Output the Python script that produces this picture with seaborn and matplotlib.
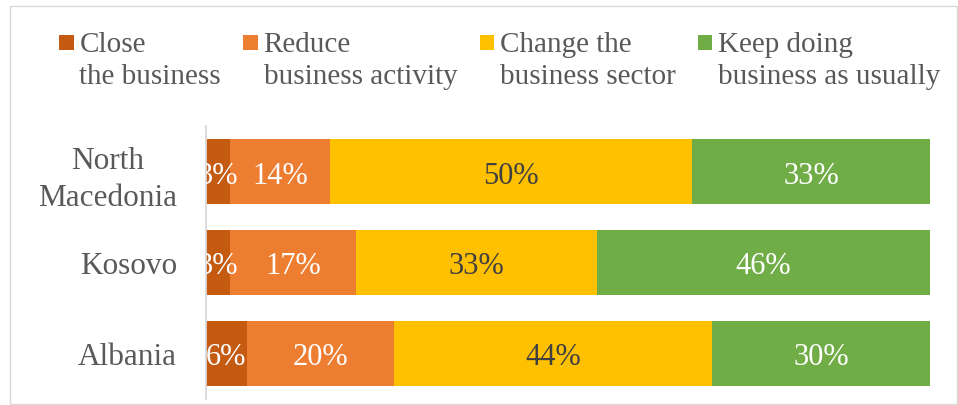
import matplotlib
matplotlib.use("Agg")
import matplotlib.pyplot as plt
from matplotlib.patches import Rectangle, Patch
from matplotlib.legend_handler import HandlerPatch
import seaborn as sns
import pandas as pd

# Survey shares (%) by country
countries = ["North Macedonia", "Kosovo", "Albania"]
tick_labels = ["North\nMacedonia", "Kosovo", "Albania"]
series = ["Close\nthe business", "Reduce\nbusiness activity",
          "Change the\nbusiness sector", "Keep doing\nbusiness as usually"]
close_business = [3.3, 3.3, 5.6]
reduce_activity = [13.8, 17.4, 20.4]
change_sector = [50.0, 33.3, 43.9]
keep_usual = [32.9, 46.0, 30.1]

colors = ["#C55A11", "#ED7D31", "#FFC000", "#70AD47"]
label_colors = ["white", "white", "#404040", "white"]
text_gray = "#595959"

sns.set_theme(style="white")
plt.rcParams["font.family"] = ["Liberation Serif", "DejaVu Serif"]

W, H = 958, 406
fig = plt.figure(figsize=(W / 100, H / 100), dpi=100)
ax = fig.add_axes([206 / W, 1 - 400 / H, (930 - 206) / W, (400 - 127) / H])

values = [close_business, reduce_activity, change_sector, keep_usual]
df = pd.DataFrame(dict(zip(series, values)), index=countries)
cum = df.cumsum(axis=1)

# Stacked bars: draw running totals from the outermost layer inwards
for name, color in reversed(list(zip(series, colors))):
    sns.barplot(x=cum[name].values, y=countries, orient="y", color=color,
                saturation=1, width=0.714, linewidth=0, ax=ax)

# Value labels at segment centres
for i, c in enumerate(countries):
    start = 0.0
    for name, lc in zip(series, label_colors):
        v = df.loc[c, name]
        ax.text(start + v / 2, i, f"{v:.0f}%", ha="center", va="center_baseline",
                color=lc, fontsize=22, clip_on=True)
        start += v

ax.set_xlim(0, 100)
ax.set_ylim(2.5, -0.5)
ax.set_xticks([])
ax.set_xlabel("")
ax.set_ylabel("")
ax.set_yticks(range(len(countries)))
ax.set_yticklabels(tick_labels, fontsize=22.5, color=text_gray,
                   multialignment="center", linespacing=1.37)
ax.tick_params(axis="y", length=0, pad=21)
for side in ["top", "right", "bottom"]:
    ax.spines[side].set_visible(False)
ax.spines["left"].set_color("#D9D9D9")
ax.spines["left"].set_linewidth(1.3)


def square_handle(legend, orig_handle, xdescent, ydescent, width, height, fontsize):
    # square swatch sitting at the bottom of a slightly taller handle box
    return Rectangle((-xdescent, -ydescent), width, width)


handles = [Patch(facecolor=c, edgecolor="none") for c in colors]
leg = fig.legend(handles, series, loc="upper left", bbox_to_anchor=(59 / W, 1 - 32 / H),
                 ncol=4, frameon=False, fontsize=21, handlelength=0.5, handleheight=0.62,
                 handletextpad=0.2, columnspacing=0.76, borderpad=0, borderaxespad=0,
                 labelcolor=text_gray,
                 handler_map={Patch: HandlerPatch(patch_func=square_handle)})
for t in leg.get_texts():
    t.set_linespacing(1.28)
for col in leg._legend_handle_box.get_children():
    for item in col.get_children():
        item.align = "top"

# Chart-area border
fig.add_artist(Rectangle((10 / W, 1 - 405 / H), (957 - 10) / W, (405 - 7) / H,
                         transform=fig.transFigure, fill=False,
                         edgecolor="#D9D9D9", linewidth=1))

fig.savefig("out.png", dpi=100)
